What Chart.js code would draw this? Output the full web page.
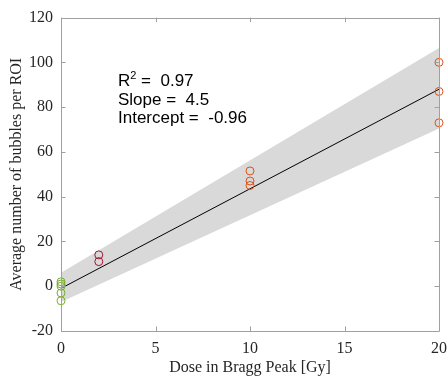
<!DOCTYPE html>
<html>
<head>
<meta charset="utf-8">
<script src="https://cdn.jsdelivr.net/npm/chart.js@4"></script>
<style>
html,body{margin:0;padding:0;background:#fff;}
#wrap{width:448px;height:378px;position:relative;}
</style>
</head>
<body>
<div id="wrap"><canvas id="c" width="448" height="378"></canvas></div>
<script>
// Data
const doseGroup0 = [0, 0, 0, 0, 0];
const bubbles0 = [2, 1, 0, -3, -6.5];
const doseGroup2 = [2, 2];
const bubbles2 = [14, 11];
const doseGroup10 = [10, 10, 10];
const bubbles10 = [51.5, 47, 45];
const doseGroup20 = [20, 20, 20];
const bubbles20 = [100, 87, 73];
const fitX = [0, 20];
const fitY = [-0.96, 88];
const bandX = [0, 20];
const bandUpper = [6, 106.4];
const bandLower = [-7, 70.5];
const xTicks = [0, 5, 10, 15, 20];
const yTicks = [-20, 0, 20, 40, 60, 80, 100, 120];
const statsLabels = ['Slope = ', 'Intercept = '];
const statsValues = ['4.5', '-0.96'];
const r2Value = '0.97';

const pts = (xs, ys) => xs.map((x, i) => ({x, y: ys[i]}));
const axisColor = '#a0a0a0';
const textColor = '#262626';
const serif = "'Liberation Serif', 'Times New Roman', serif";

const boxPlugin = {
  id: 'box',
  afterDatasetsDraw(chart) {
    const {ctx, chartArea: a, scales: {x, y}} = chart;
    ctx.save();
    ctx.strokeStyle = axisColor;
    ctx.lineWidth = 1;
    ctx.beginPath();
    ctx.rect(Math.round(a.left) + 0.5, Math.round(a.top) + 0.5, Math.round(a.right - a.left), Math.round(a.bottom - a.top));
    const tl = 4.5;
    xTicks.forEach(v => {
      const px = Math.round(x.getPixelForValue(v)) + 0.5;
      ctx.moveTo(px, a.bottom); ctx.lineTo(px, a.bottom - tl);
      ctx.moveTo(px, a.top); ctx.lineTo(px, a.top + tl);
    });
    yTicks.forEach(v => {
      const py = Math.round(y.getPixelForValue(v)) + 0.5;
      ctx.moveTo(a.left, py); ctx.lineTo(a.left + tl, py);
      ctx.moveTo(a.right, py); ctx.lineTo(a.right - tl, py);
    });
    ctx.stroke();
    ctx.restore();
  },
  afterDraw(chart) {
    const {ctx} = chart;
    ctx.save();
    ctx.fillStyle = '#000';
    ctx.textBaseline = 'alphabetic';
    ctx.textAlign = 'left';
    const f = "17px 'Liberation Sans', Arial, sans-serif";
    const fs = "11px 'Liberation Sans', Arial, sans-serif";
    const x0 = 118;
    ctx.font = f;
    ctx.fillText('R', x0, 86);
    const wR = ctx.measureText('R').width;
    ctx.font = fs;
    ctx.fillText('2', x0 + wR, 79);
    const w2 = ctx.measureText('2').width;
    ctx.font = f;
    ctx.fillText(' =  ' + r2Value, x0 + wR + w2, 86);
    ctx.fillText(statsLabels[0] + ' ' + statsValues[0], x0, 104.5);
    ctx.fillText(statsLabels[1] + ' ' + statsValues[1], x0, 123);
    ctx.restore();
  }
};

const circle = (color) => ({
  showLine: false,
  pointStyle: 'circle',
  pointRadius: 4,
  pointBorderWidth: 1,
  pointBorderColor: color,
  pointBackgroundColor: 'rgba(0,0,0,0)',
  clip: false,
  order: 0
});

new Chart(document.getElementById('c'), {
  type: 'scatter',
  data: {
    datasets: [
      { data: pts(bandX, bandLower), showLine: true, borderWidth: 0, pointRadius: 0, fill: false, borderColor: 'rgba(0,0,0,0)', order: 10 },
      { data: pts(bandX, bandUpper), showLine: true, borderWidth: 0, pointRadius: 0, fill: '-1', backgroundColor: '#d9d9d9', borderColor: 'rgba(0,0,0,0)', order: 9 },
      { data: pts(fitX, fitY), showLine: true, borderWidth: 1, borderColor: '#000', pointRadius: 0, order: 5 },
      Object.assign({ data: pts(doseGroup0, bubbles0) }, circle('#77AC30')),
      Object.assign({ data: pts(doseGroup2, bubbles2) }, circle('#A2142F')),
      Object.assign({ data: pts(doseGroup10, bubbles10) }, circle('#D95319')),
      Object.assign({ data: pts(doseGroup20, bubbles20) }, circle('#D95319'))
    ]
  },
  options: {
    responsive: false,
    animation: false,
    events: [],
    layout: { padding: { top: 11, right: 9, left: 0, bottom: 0 } },
    plugins: { legend: { display: false }, tooltip: { enabled: false } },
    scales: {
      x: {
        type: 'linear', min: 0, max: 20,
        afterFit(s) { s.height = 47; s.paddingRight = 0; },
        afterBuildTicks(s) { s.ticks = xTicks.map(v => ({value: v})); },
        border: { display: false },
        grid: { display: false, drawTicks: false, tickLength: 0 },
        ticks: { color: textColor, font: { family: serif, size: 16 }, padding: 8, maxRotation: 0 },
        title: { display: true, text: 'Dose in Bragg Peak [Gy]', color: textColor, font: { family: serif, size: 16 }, padding: { top: 0, bottom: 0.5 } }
      },
      y: {
        type: 'linear', min: -20, max: 120,
        afterFit(s) { s.width = 61; },
        afterBuildTicks(s) { s.ticks = yTicks.map(v => ({value: v})); },
        border: { display: false },
        grid: { display: false, drawTicks: false, tickLength: 0 },
        ticks: { color: textColor, font: { family: serif, size: 16 }, padding: 8 },
        title: { display: true, text: 'Average number of bubbles per ROI', color: textColor, font: { family: serif, size: 16 }, padding: { top: 7.5, bottom: 0 } }
      }
    }
  },
  plugins: [boxPlugin]
});
</script>
</body>
</html>
